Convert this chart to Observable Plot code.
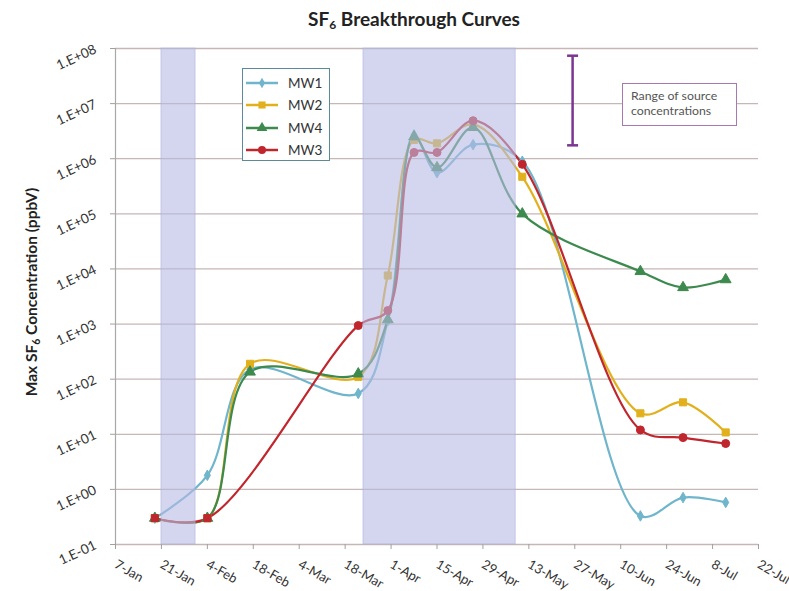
<!DOCTYPE html>
<html><head><meta charset="utf-8">
<script src="https://cdn.jsdelivr.net/npm/d3@7"></script>
<script src="https://cdn.jsdelivr.net/npm/@observablehq/plot@0.6"></script>
<style>
body{margin:0;background:#fff;font-family:Lato,"Open Sans",sans-serif;}
#wrap{position:relative;width:789px;height:591px;overflow:hidden;background:#fff}
#title{position:absolute;left:414px;top:8px;transform:translateX(-50%);font-weight:bold;font-size:19px;line-height:22px;color:#222;white-space:nowrap}
#title sub{font-size:12px;vertical-align:-3px;line-height:0}
#chart{position:absolute;left:0;top:34px}
#legend{position:absolute;left:242px;top:68px;width:86px;height:91px;border:1.5px solid #5b8a99;background:#fff;box-sizing:content-box}
.lrow{position:absolute;left:3px;height:20px;display:flex;align-items:center;font-size:13.5px;color:#333}
.lrow span{margin-left:10px}
#note{position:absolute;left:622px;top:83px;width:115px;height:43px;border:1.2px solid #a878b0;background:#fff;font-size:12.3px;line-height:15px;color:#555;padding:4px 0 0 8px;box-sizing:border-box;white-space:nowrap}
</style></head><body>
<div id="wrap">
  <div id="title">SF<sub>6</sub> Breakthrough Curves</div>
  <div id="chart"></div>
  <div id="legend"></div>
  <div id="note">Range of source<br>concentrations</div>
</div>
<script>
// ---- data ----
const sampleDates = ["2013-01-19","2013-02-04","2013-02-17","2013-03-22","2013-03-31","2013-04-08","2013-04-15","2013-04-26","2013-05-11","2013-06-16","2013-06-29","2013-07-12"];
const mw1 = [0.3, 1.8, 150, 55, 1150, 2.7e6, 5.6e5, 1.8e6, 9e5, 0.33, 0.71, 0.58];
const mw2 = [0.3, 0.3, 190, 110, 7600, 2.2e6, 1.9e6, 4.2e6, 4.7e5, 24, 38, 10.8];
const mw4 = [0.3, 0.3, 135, 125, 1200, 2.5e6, 6.9e5, 3.7e6, 1.0e5, 9000, 4600, 6400];
const mw3 = [0.3, 0.3, null, 940, 1760, 1.3e6, 1.3e6, 4.9e6, 7.9e5, 12, 8.7, 6.8];
const mw3Markers = ["square","square",null,"circle","circle","circle","circle","circle","circle","circle","circle","circle"];

const seriesNames = ["MW1","MW2","MW4","MW3"];
const seriesValues = [mw1, mw2, mw4, mw3];
const seriesColors = ["#6fb5cc","#e2b01c","#3d8a4f","#c0262d"];
const seriesSymbols = ["diamond","square","triangle","circle"];
const seriesRadius = [3.2, 4, 4, 4];

const xTickDates = ["2013-01-07","2013-01-21","2013-02-04","2013-02-18","2013-03-04","2013-03-18","2013-04-01","2013-04-15","2013-04-29","2013-05-13","2013-05-27","2013-06-10","2013-06-24","2013-07-08","2013-07-22"];
const xTickLabels = ["7-Jan","21-Jan","4-Feb","18-Feb","4-Mar","18-Mar","1-Apr","15-Apr","29-Apr","13-May","27-May","10-Jun","24-Jun","8-Jul","22-Jul"];
const yTicks = [1e-1,1e0,1e1,1e2,1e3,1e4,1e5,1e6,1e7,1e8];
const yTickLabels = ["1.E-01","1.E+00","1.E+01","1.E+02","1.E+03","1.E+04","1.E+05","1.E+06","1.E+07","1.E+08"];

const bandStarts = ["2013-01-21T00:00Z","2013-03-23T14:00Z"];
const bandEnds = ["2013-01-31T10:00Z","2013-05-09T00:00Z"];

const rangeDate = "2013-05-26T08:00Z";
const rangeLow = 1.75e6;
const rangeHigh = 7.4e7;

// ---- build ----
const parse = s => new Date(s.length === 10 ? s + "T00:00Z" : s);
const rows = [];
seriesNames.forEach((name, si) => {
  seriesValues[si].forEach((v, i) => {
    if (v == null) return;
    rows.push({series: name, si, date: parse(sampleDates[i]), value: v,
      symbol: name === "MW3" ? mw3Markers[i] : seriesSymbols[si]});
  });
});
const bands = bandStarts.map((s, i) => ({x1: parse(s), x2: parse(bandEnds[i])}));
const xTickD = xTickDates.map(parse);
const xLabelMap = new Map(xTickD.map((d, i) => [+d, xTickLabels[i]]));
const yLabelMap = new Map(yTicks.map((d, i) => [d, yTickLabels[i]]));

const capSymbol = {draw(ctx, size) { const w = Math.sqrt(size / Math.PI); ctx.moveTo(-w, 0); ctx.lineTo(w, 0); }};

const marks = [
  Plot.ruleY(yTicks, {stroke: "#c6b6b6", strokeWidth: 1.3}),
  Plot.ruleX([xTickD[0]], {stroke: "#a8a8a8", strokeWidth: 1.2}),
  Plot.axisX({ticks: xTickD, tickFormat: d => xLabelMap.get(+d), tickRotate: 30, tickSize: 5, tickPadding: 14, label: null, stroke: "#a0a0a0", fill: "#333", fontSize: 13}),
  Plot.axisY({ticks: yTicks, tickFormat: d => yLabelMap.get(d), tickRotate: -25, tickSize: 5, tickPadding: 15, label: null, stroke: "#a0a0a0", fill: "#333", fontSize: 13.5})
];
seriesNames.forEach((name, si) => {
  const data = rows.filter(r => r.si === si);
  marks.push(Plot.line(data, {x: "date", y: "value", stroke: seriesColors[si], strokeWidth: 2.2, curve: "catmull-rom"}));
});
seriesNames.forEach((name, si) => {
  const data = rows.filter(r => r.si === si);
  marks.push(Plot.dot(data, {x: "date", y: "value", symbol: "symbol", fill: seriesColors[si], stroke: seriesColors[si], strokeWidth: 1, r: seriesRadius[si]}));
});
marks.push(Plot.rect(bands, {x1: "x1", x2: "x2", fill: "#b6bbe2", fillOpacity: 0.6, stroke: "#aab0dc", strokeOpacity: 0.5}));
marks.push(Plot.ruleX([parse(rangeDate)], {y1: rangeLow, y2: rangeHigh, stroke: "#7b3592", strokeWidth: 2.5}));
marks.push(Plot.dot([rangeLow, rangeHigh], {x: () => parse(rangeDate), y: d => d, symbol: capSymbol, r: 5.5, stroke: "#7b3592", strokeWidth: 2.5}));

const chart = Plot.plot({
  width: 789, height: 557,
  marginLeft: 115, marginRight: 31, marginTop: 14, marginBottom: 47,
  x: {type: "utc", domain: [parse("2013-01-07"), parse("2013-07-22")]},
  y: {type: "log", domain: [0.1, 1e8]},
  style: {fontFamily: "Lato, 'Open Sans', sans-serif", background: "transparent", overflow: "visible"},
  marks
});
document.getElementById("chart").appendChild(chart);

// y axis label with subscript
const svg = d3.select(chart);
const yl = svg.append("text")
  .attr("transform", "translate(37,258) rotate(-90)")
  .attr("text-anchor", "middle")
  .attr("font-weight", "bold").attr("font-size", 15.5).attr("fill", "#222")
  .attr("font-family", "Lato, 'Open Sans', sans-serif");
yl.append("tspan").text("Max SF");
yl.append("tspan").text("6").attr("font-size", 10.5).attr("dy", 3);
yl.append("tspan").text(" Concentration (ppbV)").attr("dy", -3);

// legend
const legend = document.getElementById("legend");
const rowTops = [4, 26, 48.5, 70.5];
seriesNames.forEach((name, si) => {
  const row = document.createElement("div");
  row.className = "lrow";
  row.style.top = rowTops[si] + "px";
  const s = d3.create("svg").attr("width", 32).attr("height", 12);
  s.append("line").attr("x1", 0).attr("x2", 32).attr("y1", 6).attr("y2", 6).attr("stroke", seriesColors[si]).attr("stroke-width", 2.5);
  const symType = {diamond: d3.symbolDiamond, square: d3.symbolSquare, triangle: d3.symbolTriangle, circle: d3.symbolCircle}[seriesSymbols[si]];
  s.append("path").attr("d", d3.symbol(symType, Math.PI * seriesRadius[si] ** 2)()).attr("transform", "translate(16,6)").attr("fill", seriesColors[si]);
  row.appendChild(s.node());
  const t = document.createElement("span");
  t.textContent = name;
  row.appendChild(t);
  legend.appendChild(row);
});
</script>
</body></html>
